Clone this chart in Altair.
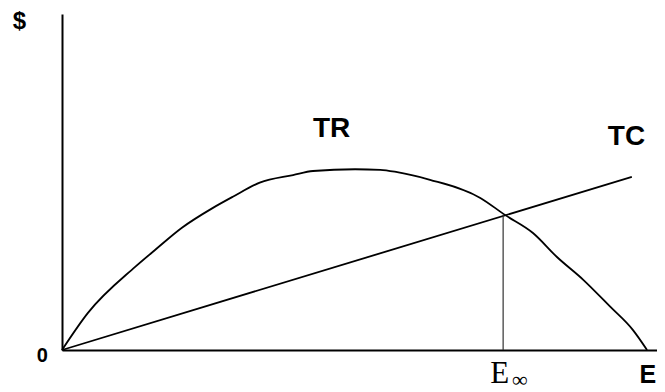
import altair as alt
import pandas as pd

# Total revenue curve (E units, $ units)
tr_e = [0, 4.4, 12.5, 15.9, 20.5, 25.8, 29.2, 33.8, 39.5, 42.9, 50.1, 54.4, 57.3, 62.9, 71.5, 75.7, 80.5, 84.6, 89.1, 93.7, 97.6, 100]
tr_s = [0, 6.3, 14.2, 17.1, 20.9, 24.3, 26.2, 28.6, 29.9, 30.6, 30.9, 30.8, 30.4, 29.1, 26.0, 23.1, 20.0, 15.9, 12.0, 7.4, 3.4, 0]
# Total cost line
tc_e = [0, 97.4]
tc_s = [0, 29.6]
# Open-access equilibrium
e_inf = 75.4
e_inf_s = 23.1

# Labels
sans_text = ["$", "0", "TR", "TC", "E"]
sans_x = [-8.4, -4.3, 42.9, 93.3, 98.7]
sans_y = [54.9, -2.05, 36.4, 35.0, -5.64]
sans_size = [24, 20, 28, 28, 25]

serif_text = ["E", "∞"]
serif_x = [73.2, 76.9]
serif_y = [-5.64, -7.18]
serif_size = [31, 22]
serif_base = ["alphabetic", "bottom"]

X_DOM = [0, 101.7]
Y_DOM = [0, 57.44]

xs = alt.Scale(domain=X_DOM, nice=False, zero=False)
ys = alt.Scale(domain=Y_DOM, nice=False, zero=False)

ax = alt.Axis(labels=False, ticks=False, title=None, grid=False,
              domainColor="black", domainWidth=2)

tr_df = pd.DataFrame({"E": tr_e, "S": tr_s, "o": range(len(tr_e))})
tc_df = pd.DataFrame({"E": tc_e, "S": tc_s})
v_df = pd.DataFrame({"E": [e_inf], "S0": [0], "S1": [e_inf_s]})
sans_df = pd.DataFrame({"t": sans_text, "E": sans_x, "S": sans_y, "sz": sans_size})

axes = alt.Chart(tc_df).mark_point(opacity=0).encode(
    x=alt.X("E:Q", scale=xs, axis=ax),
    y=alt.Y("S:Q", scale=ys, axis=ax),
)

tr = alt.Chart(tr_df).mark_line(color="black", strokeWidth=1.8, interpolate="monotone").encode(
    x=alt.X("E:Q", scale=xs), y=alt.Y("S:Q", scale=ys), order="o:Q")

tc = alt.Chart(tc_df).mark_line(color="black", strokeWidth=1.8).encode(
    x=alt.X("E:Q", scale=xs), y=alt.Y("S:Q", scale=ys))

vl = alt.Chart(v_df).mark_rule(color="#333333", strokeWidth=1.2).encode(
    x=alt.X("E:Q", scale=xs), y=alt.Y("S0:Q", scale=ys), y2="S1:Q")

sans = alt.Chart(sans_df).mark_text(
    font="Liberation Sans", fontWeight="bold", align="left", baseline="alphabetic", color="black"
).encode(x=alt.X("E:Q", scale=xs), y=alt.Y("S:Q", scale=ys), text="t:N",
         size=alt.Size("sz:Q", scale=None, legend=None))

serif_layers = []
for t, x, y, s, b in zip(serif_text, serif_x, serif_y, serif_size, serif_base):
    d = pd.DataFrame({"t": [t], "E": [x], "S": [y]})
    serif_layers.append(
        alt.Chart(d).mark_text(
            font="Liberation Serif", align="left", baseline=b, color="black", fontSize=s
        ).encode(x=alt.X("E:Q", scale=xs), y=alt.Y("S:Q", scale=ys), text="t:N")
    )

chart = alt.layer(axes, tr, tc, vl, sans, *serif_layers).properties(
    width=595, height=336,
    autosize=alt.AutoSizeParams(type="none"),
    padding={"left": 54, "top": 6, "right": 0, "bottom": 42},
    background="white",
).configure_view(stroke=None)

chart.save("out.html", embed_options={"renderer": "svg", "actions": False})
